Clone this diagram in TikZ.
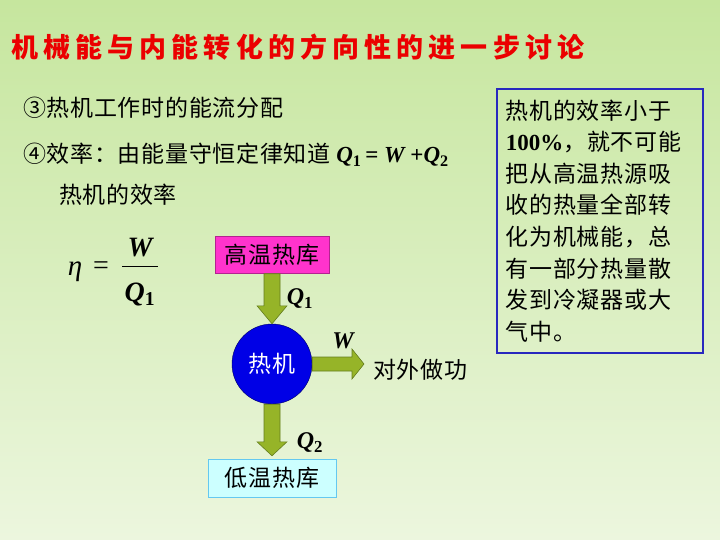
\documentclass[tikz,border=0pt]{standalone}
\usepackage{fontspec}
\setmainfont[LetterSpace=3]{Noto Sans CJK SC}
\newfontfamily\titlefont[LetterSpace=19]{Noto Sans CJK SC}
\newfontfamily\tnr{Liberation Serif}
\usetikzlibrary{positioning, calc}
\definecolor{bgtop}{RGB}{198,230,158}
\definecolor{bgbottom}{RGB}{236,246,222}
\definecolor{titlered}{RGB}{235,0,0}
\definecolor{hotcolor}{RGB}{255,51,204}
\definecolor{coldcolor}{RGB}{204,255,255}
\definecolor{coldborder}{RGB}{100,200,240}
\definecolor{enginecolor}{RGB}{0,0,230}
\definecolor{flowcolor}{RGB}{150,180,40}
\definecolor{flowborder}{RGB}{100,125,30}
\definecolor{notecolor}{RGB}{40,40,190}
\newcommand{\bq}[1]{{\tnr\bfseries\itshape Q}{\tnr\bfseries\upshape\textsubscript{#1}}}

\begin{document}
\begin{tikzpicture}[
    x=1pt, y=-1pt,
    txt/.style={inner sep=0pt, font=\fontsize{23}{28}\selectfont},
    store/.style={rectangle, draw, minimum width=114pt, minimum height=37pt, inner sep=0pt, font=\fontsize{23}{28}\selectfont},
    fatarrow/.style={fill=flowcolor, draw=flowborder, line width=0.6pt, line join=miter},
    lbl/.style={inner sep=0pt, font=\tnr\bfseries\itshape\fontsize{24}{24}\selectfont}
]

% Background
\shade[top color=bgtop, bottom color=bgbottom] (0,0) rectangle (720,540);
\useasboundingbox (0,0) rectangle (720,540);

% Title
\node[anchor=west, inner sep=0pt, text=titlered, font=\titlefont\bfseries\fontsize{27}{27}\selectfont] (title) at (11,47) {机械能与内能转化的方向性的进一步讨论};

% Text lines
\node[txt, anchor=west] (flow) at (23,108) {③热机工作时的能流分配};
\node[txt, anchor=west] (law) at (23,155) {④效率：由能量守恒定律知道\ \bq{1}\,{\tnr\bfseries = \itshape W} {\tnr\bfseries +}\bq{2}};
\node[txt, anchor=west] (effword) at (59,195) {热机的效率};

% Efficiency formula
\node[inner sep=0pt, font=\tnr\itshape\fontsize{29}{29}\selectfont] (eta) at (75,272) {η};
\node[inner sep=0pt, font=\tnr\fontsize{28}{28}\selectfont] (equal) at (101,268) {=};
\node[inner sep=0pt, font=\tnr\bfseries\itshape\fontsize{28}{28}\selectfont] (num) at (140,248) {W};
\node[inner sep=0pt, font=\fontsize{28}{28}\selectfont] (den) at (140,294) {\bq{1}};
\draw[line width=0.9pt] (122,266) -- (158,266);

% Reservoirs and engine
\node[store, fill=hotcolor, draw=hotcolor!70!black] (hot) at (272,255) {高温热库};
\node[circle, fill=enginecolor, draw=blue!40!black, minimum size=80pt, inner sep=0pt, text=white, font=\fontsize{23}{28}\selectfont] (engine) at (272,364) {热机};
\node[store, fill=coldcolor, draw=coldborder, minimum width=128pt, minimum height=38pt] (cold) at (272,478) {低温热库};
\node[txt, anchor=west] (work) at (373,370) {对外做功};

\coordinate (q2tip) at ($(cold.north)+(0,-3)$);
\coordinate (wtip) at ($(engine.east -| work.west)+(-9,0)$);

% Energy flows
\draw[fatarrow] ($(hot.south)+(-8,0)$) -- ($(engine.north)+(-8,-18)$) -- ++(-7,0) -- (engine.north) -- ++(15,-18) -- ++(-7,0) -- ($(hot.south)+(8,0)$) -- cycle;
\draw[fatarrow] ($(engine.east)+(0,-7)$) -- ($(wtip)+(-12,-7)$) -- ++(0,-8) -- (wtip) -- ++(-12,15) -- ++(0,-8) -- ($(engine.east)+(0,7)$) -- cycle;
\draw[fatarrow] ($(engine.south)+(-8,0)$) -- ($(q2tip)+(-8,-14)$) -- ++(-7,0) -- (q2tip) -- ++(15,-14) -- ++(-7,0) -- ($(engine.south)+(8,0)$) -- cycle;

\node[lbl] (q1) at ($(hot.south)!0.5!(engine.north)+(28,0)$) {\bq{1}};
\node[lbl] (w) at ($(engine.east)!0.5!(wtip)+(5,-23)$) {W};
\node[lbl] (q2) at ($(q2tip)+(38,-13)$) {\bq{2}};

% Note
\node[anchor=north west, draw=notecolor, line width=1.8pt, text width=188pt, inner xsep=9pt, minimum width=206pt, minimum height=264pt, align=left, font=\fontsize{23}{31.6}\selectfont] (note) at (496,88) {热机的效率小于\\{\tnr\bfseries 100\%}，就不可能\\把从高温热源吸\\收的热量全部转\\化为机械能，总\\有一部分热量散\\发到冷凝器或大\\气中。};

\end{tikzpicture}
\end{document}
